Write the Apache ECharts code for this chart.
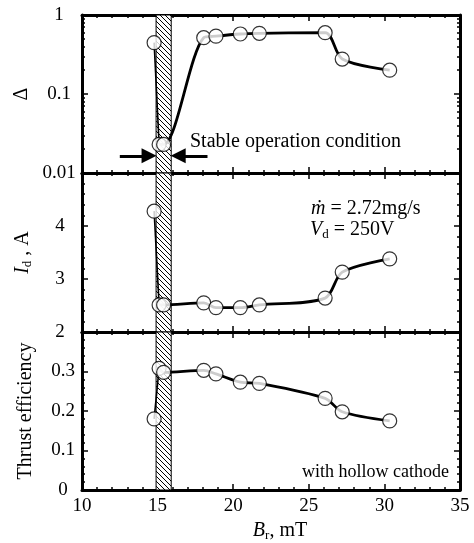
<!DOCTYPE html>
<html>
<head>
<meta charset="utf-8">
<script src="https://cdn.jsdelivr.net/npm/echarts@6/dist/echarts.min.js"></script>
<style>
html,body{margin:0;padding:0;background:#fff}
#main{width:474px;height:543px}
</style>
</head>
<body>
<div id="main"></div>
<script>
// radial magnetic field, mT
var Br = [14.77, 15.1, 15.4, 18.05, 18.86, 20.47, 21.73, 26.08, 27.21, 30.35];
// oscillation amplitude (log scale)
var delta = [0.447, 0.023, 0.023, 0.516, 0.54, 0.575, 0.586, 0.597, 0.277, 0.2];
// discharge current, A
var Id = [4.28, 2.51, 2.51, 2.55, 2.46, 2.46, 2.51, 2.64, 3.13, 3.38];
// thrust efficiency
var eta = [0.18, 0.308, 0.298, 0.303, 0.294, 0.273, 0.27, 0.232, 0.198, 0.175];

var stableBand = [14.9, 15.9];
var logMinor = [0.02, 0.03, 0.04, 0.05, 0.06, 0.07, 0.08, 0.09, 0.2, 0.3, 0.4, 0.5, 0.6, 0.7, 0.8, 0.9];
var arrowLevel = 0.0165;

var FONT = '"Liberation Serif", "Times New Roman", serif';
var chart = echarts.init(document.getElementById('main'));

// hatch pattern for the stable band
var hatch = document.createElement('canvas');
hatch.width = 5; hatch.height = 5;
var hc = hatch.getContext('2d');
hc.fillStyle = '#fff';
hc.fillRect(0, 0, 5, 5);
hc.strokeStyle = '#000';
hc.lineWidth = 1;
hc.beginPath();
for (var k = -5; k <= 5; k += 5) {
    hc.moveTo(k, 0);
    hc.lineTo(k + 5, 5);
}
hc.stroke();

function pairs(xs, ys) {
    return xs.map(function (x, i) { return [x, ys[i]]; });
}

var tickStyle = {color: '#000', width: 1.5};
var lineBorder = {color: '#000', width: 3};

function makeX(gi, pos, labels) {
    return {
        type: 'value', gridIndex: gi, position: pos,
        min: 10, max: 35, interval: 5,
        axisLine: {show: true, onZero: false, lineStyle: lineBorder},
        axisTick: {show: true, inside: true, length: 6, lineStyle: tickStyle},
        minorTick: {show: true, splitNumber: 5, length: 3, lineStyle: tickStyle},
        axisLabel: {show: labels, color: '#000', fontFamily: FONT, fontSize: 19, margin: 7},
        splitLine: {show: false},
        name: labels ? '{i|B}{s|r}, mT' : '',
        nameLocation: 'middle',
        nameGap: 30,
        nameTextStyle: {
            color: '#000', fontFamily: FONT, fontSize: 20, padding: [0, 0, 0, 18],
            rich: {
                i: {fontFamily: FONT, fontSize: 20, fontStyle: 'italic', color: '#000'},
                s: {fontFamily: FONT, fontSize: 13, color: '#000', padding: [9, 0, 0, 0]}
            }
        }
    };
}

function makeY(gi, pos, opt) {
    var left = pos === 'left';
    var a = {
        type: opt.type || 'value', gridIndex: gi, position: pos,
        min: opt.min, max: opt.max,
        axisLine: {show: true, onZero: false, lineStyle: lineBorder},
        axisTick: {show: true, inside: true, length: 6, lineStyle: tickStyle},
        axisLabel: {
            show: left, color: '#000', fontFamily: FONT, fontSize: 19,
            align: 'center', margin: opt.margin, showMaxLabel: opt.showMax,
            formatter: opt.formatter
        },
        splitLine: {show: false}
    };
    if (opt.interval) a.interval = opt.interval;
    if (opt.type !== 'log') {
        a.minorTick = {show: true, splitNumber: 5, length: 3, lineStyle: tickStyle};
    } else {
        a.logBase = 10;
    }
    if (left && opt.name) {
        a.name = opt.name;
        a.nameLocation = 'middle';
        a.nameRotate = 90;
        a.nameGap = opt.nameGap;
        a.nameTextStyle = {
            color: '#000', fontFamily: FONT, fontSize: 20,
            rich: {
                i: {fontFamily: FONT, fontSize: 20, fontStyle: 'italic', color: '#000'},
                s: {fontFamily: FONT, fontSize: 13, color: '#000', padding: [9, 0, 0, 0]}
            }
        };
    }
    return a;
}

function logMinorAxis(pos) {
    return {
        type: 'log', logBase: 10, gridIndex: 0, position: pos, min: 0.01, max: 1,
        axisLine: {show: false},
        axisTick: {show: true, inside: true, length: 3, lineStyle: tickStyle, customValues: logMinor},
        axisLabel: {show: false},
        splitLine: {show: false}
    };
}

var logFmt = function (v) { return String(parseFloat(v.toPrecision(2))); };

var band = {
    silent: true,
    itemStyle: {color: {image: hatch, repeat: 'repeat'}, borderColor: '#000', borderWidth: 1, opacity: 1},
    data: [[{xAxis: stableBand[0]}, {xAxis: stableBand[1]}]]
};

var pxUnit = 378 / 25;   // pixels per mT
var headHalf = 7 / pxUnit;

// thin first drop + thick main curve, markers on top
function panelSeries(xi, yi, ys, extra) {
    var all = pairs(Br, ys);
    var main = {
        type: 'line', xAxisIndex: xi, yAxisIndex: yi,
        data: all.slice(1), smooth: 0.3, z: 5,
        symbol: 'none',
        lineStyle: {color: '#000', width: 2.8},
        emphasis: {disabled: true},
        markArea: band
    };
    for (var key in extra) main[key] = extra[key];
    var drop = {
        type: 'line', xAxisIndex: xi, yAxisIndex: yi,
        data: all.slice(0, 2), z: 5, symbol: 'none',
        lineStyle: {color: '#000', width: 1.6},
        emphasis: {disabled: true}
    };
    var marks = {
        type: 'scatter', xAxisIndex: xi, yAxisIndex: yi,
        data: all, z: 6, symbol: 'circle', symbolSize: 14,
        itemStyle: {color: '#fff', borderColor: '#000', borderWidth: 1.2},
        emphasis: {disabled: true}
    };
    return [main, drop, marks];
}

var option = {
    animation: false,
    backgroundColor: '#fff',
    grid: [
        {left: 82, width: 378, top: 15, height: 158},
        {left: 82, width: 378, top: 173, height: 159},
        {left: 82, width: 378, top: 332, height: 158}
    ],
    xAxis: [
        makeX(0, 'bottom', false), makeX(0, 'top', false),
        makeX(1, 'bottom', false), makeX(1, 'top', false),
        makeX(2, 'bottom', true), makeX(2, 'top', false)
    ],
    yAxis: [
        makeY(0, 'left', {type: 'log', min: 0.01, max: 1, margin: 23, showMax: true, formatter: logFmt, name: 'Δ', nameGap: 46}),
        logMinorAxis('left'),
        makeY(0, 'right', {type: 'log', min: 0.01, max: 1}),
        logMinorAxis('right'),
        makeY(1, 'left', {min: 2, max: 5, interval: 1, margin: 22, showMax: false, name: '{i|I}{s|d} , A', nameGap: 48}),
        makeY(1, 'right', {min: 2, max: 5, interval: 1}),
        makeY(2, 'left', {min: 0, max: 0.4, interval: 0.1, margin: 19, showMax: false, name: 'Thrust efficiency', nameGap: 46}),
        makeY(2, 'right', {min: 0, max: 0.4, interval: 0.1})
    ],
    series: [].concat(
        panelSeries(0, 0, delta, {
            markLine: {
                silent: true,
                symbol: ['none', 'triangle'],
                symbolSize: 15,
                label: {show: false},
                lineStyle: {color: '#000', width: 3, type: 'solid'},
                data: [
                    [{coord: [12.5, arrowLevel]}, {coord: [stableBand[0] - headHalf, arrowLevel]}],
                    [{coord: [18.3, arrowLevel]}, {coord: [stableBand[1] + headHalf, arrowLevel]}]
                ]
            }
        }),
        panelSeries(2, 4, Id),
        panelSeries(4, 6, eta)
    ),
    graphic: [
        {type: 'text', left: 190, top: 132, z: 100,
            style: {text: 'Stable operation condition', font: '20px ' + FONT, fill: '#000'}},
        {type: 'text', left: 311, top: 199, z: 100,
            style: {
                text: '{i|m\u0307} = 2.72mg/s', fill: '#000', font: '20px ' + FONT,
                rich: {i: {fontStyle: 'italic', fontFamily: FONT, fontSize: 20, fill: '#000'}}
            }},
        {type: 'text', left: 310, top: 220, z: 100,
            style: {
                text: '{i|V}{s|d} = 250V', fill: '#000', font: '20px ' + FONT,
                rich: {
                    i: {fontStyle: 'italic', fontFamily: FONT, fontSize: 20, fill: '#000'},
                    s: {fontFamily: FONT, fontSize: 13, fill: '#000', padding: [9, 0, 0, 0]}
                }
            }},
        {type: 'text', left: 302, top: 463, z: 100,
            style: {text: 'with hollow cathode', font: '18px ' + FONT, fill: '#000'}}
    ]
};

chart.setOption(option);
</script>
</body>
</html>
